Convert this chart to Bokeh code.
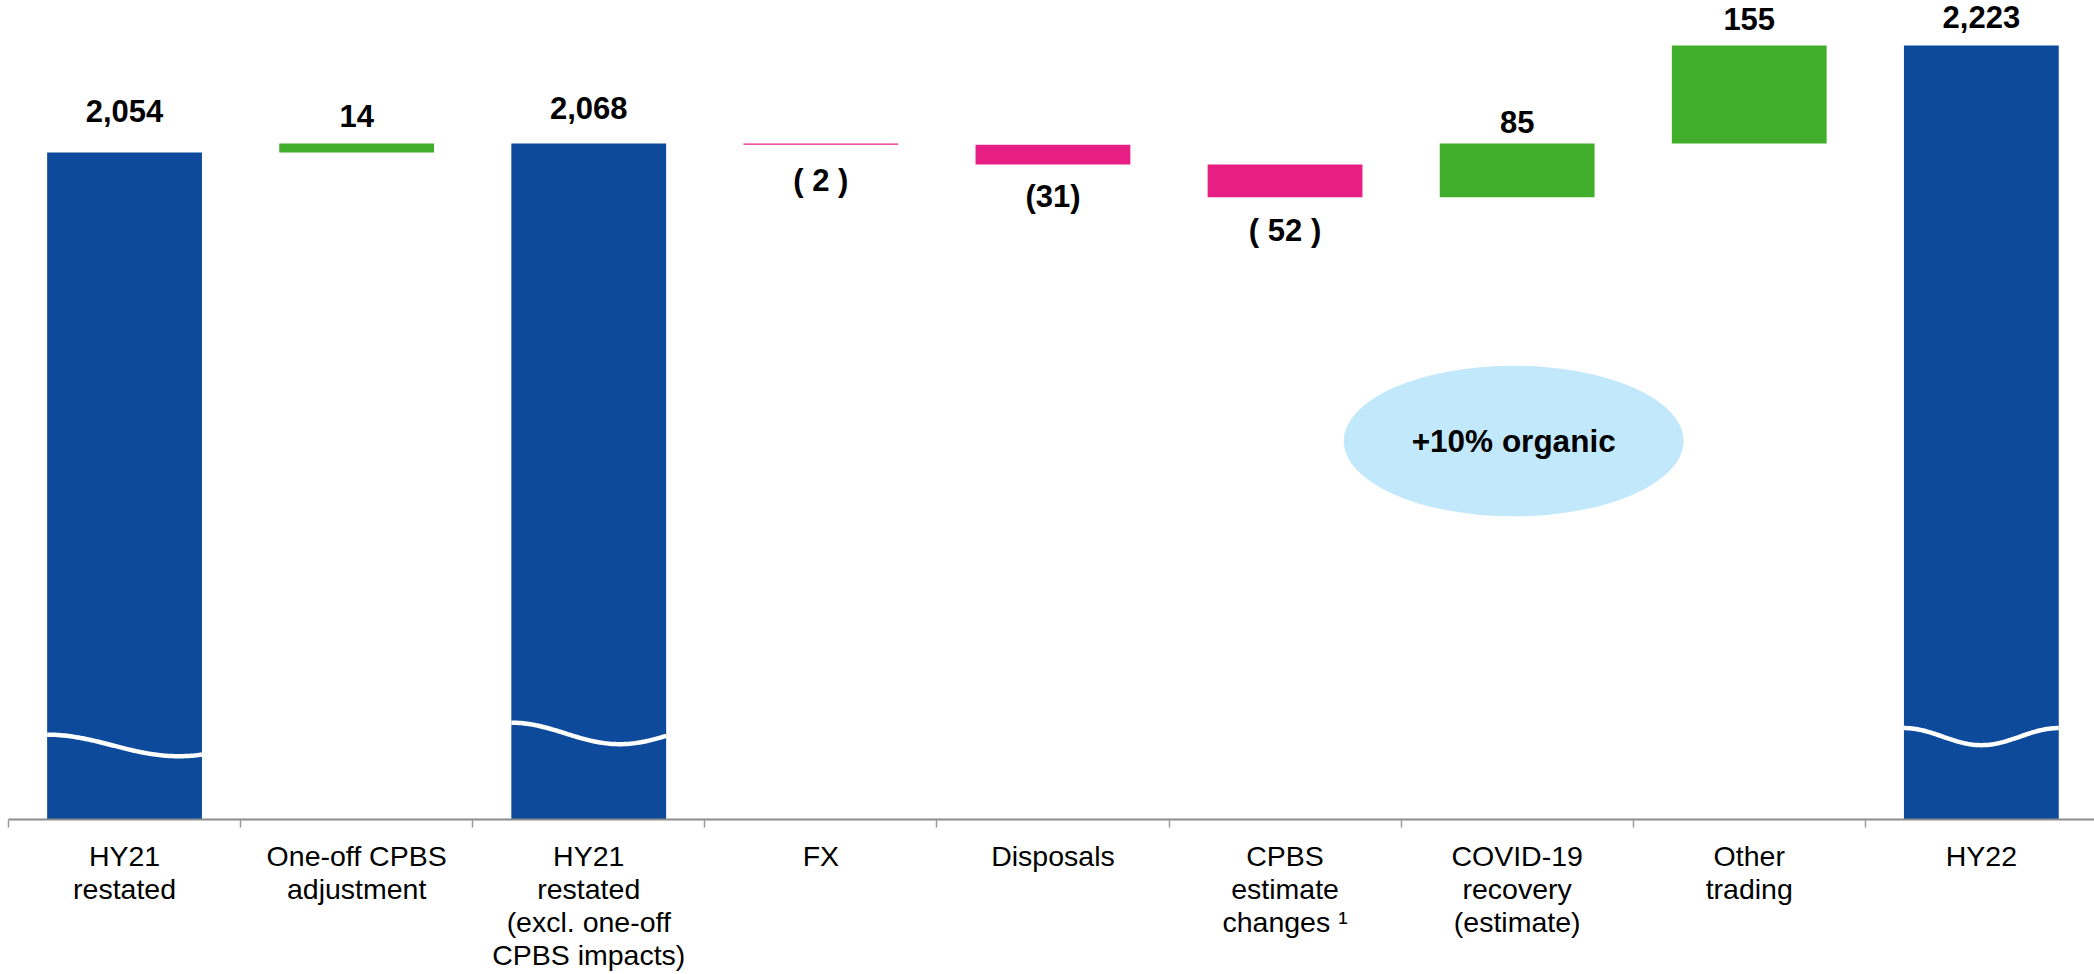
import math
from bokeh.plotting import figure
from bokeh.models import Range1d, FixedTicker, LinearAxis, ColumnDataSource, LabelSet, Label
from bokeh.embed import file_html
from bokeh.resources import INLINE
from bokeh.core.properties import value

# ---------------- DATA ----------------
categories = [
    "HY21\nrestated",
    "One-off CPBS\nadjustment",
    "HY21\nrestated\n(excl. one-off\nCPBS impacts)",
    "FX",
    "Disposals",
    "CPBS\nestimate\nchanges \u00b9",
    "COVID-19\nrecovery\n(estimate)",
    "Other\ntrading",
    "HY22",
]
values = [2054, 14, 2068, -2, -31, -52, 85, 155, 2223]
is_total = [True, False, True, False, False, False, False, False, True]
value_labels = ["2,054", "14", "2,068", "( 2 )", "(31)", "( 52 )", "85", "155", "2,223"]
annotation_text = "+10% organic"
annotation_category = "COVID-19\nrecovery\n(estimate)"

# ---------------- STYLE ----------------
W, H = 2094, 974
LEFT_PAD = 8             # blank strip left of the axis
FRAME_H = 821            # plotting frame height (px)
CAT_PX = 232.1           # pixel width of one category slot
AXIS_FLOOR = 1000        # broken axis: value shown at the baseline
Y_TOP = 2294
BAR_W = 0.667
BLUE, GREEN, PINK = "#0D4A9B", "#41AE2B", "#E71F84"
ELLIPSE_COLOR = "#C2E8FC"
FONT = "Liberation Sans"
label_gap_px = [41, 28, 36, 36, 32, 33.5, 21.5, 26, 28]
# break (wave) decoration for the truncated total bars
break_level = [1117, 1136, 1131]
break_amp = [17, 17, 13.5]
break_trough = [0.85, 0.7, 0.5]
ELLIPSE_Y, ELLIPSE_W_PX, ELLIPSE_H_PX = 1598, 340, 151

# ---------------- WATERFALL ----------------
xs = [i + 0.5 for i in range(len(categories))]
bottoms, tops, colors = [], [], []
running = 0
for v, tot in zip(values, is_total):
    if tot:
        bottoms.append(AXIS_FLOOR)
        tops.append(v)
        colors.append(BLUE)
        running = v
    else:
        start, end = running, running + v
        bottoms.append(min(start, end))
        tops.append(max(start, end))
        colors.append(GREEN if v > 0 else PINK)
        running = end

label_y = [t if (tot or v > 0) else b for t, b, v, tot in zip(tops, bottoms, values, is_total)]
label_off = [g if (tot or v > 0) else -g for g, v, tot in zip(label_gap_px, values, is_total)]

p = figure(
    width=W, height=H,
    x_range=Range1d(0, (W - LEFT_PAD) / CAT_PX), y_range=Range1d(AXIS_FLOOR, Y_TOP),
    x_axis_location=None, y_axis_location=None,
    min_border_left=LEFT_PAD, min_border_right=0, min_border_top=0,
    min_border_bottom=H - FRAME_H,
    outline_line_color=None, toolbar_location=None, output_backend="svg",
    background_fill_color="white", border_fill_color="white",
)
p.xgrid.visible = False
p.ygrid.visible = False

bar_src = ColumnDataSource(dict(x=xs, bottom=bottoms, top=tops, color=colors))
p.vbar(x="x", width=BAR_W, bottom="bottom", top="top", fill_color="color",
       line_color=None, source=bar_src)

# wave break lines on total bars
wx, wy = [], []
k = 0
for x, tot in zip(xs, is_total):
    if not tot:
        continue
    n = 80
    xx, yy = [], []
    for j in range(n + 1):
        t = j / n
        xx.append(x - BAR_W / 2 + BAR_W * t)
        yy.append(break_level[k] + break_amp[k] * math.cos(math.pi * t / break_trough[k]))
    wx.append(xx)
    wy.append(yy)
    k += 1
p.multi_line(xs=wx, ys=wy, line_color="white", line_width=4.5)

# ellipse annotation
ex = xs[categories.index(annotation_category)] - 0.015
p.ellipse(x=ex, y=ELLIPSE_Y, width=ELLIPSE_W_PX / CAT_PX,
          height=ELLIPSE_H_PX * (Y_TOP - AXIS_FLOOR) / FRAME_H,
          fill_color=ELLIPSE_COLOR, line_color=None)
p.add_layout(Label(x=ex, y=ELLIPSE_Y, text=annotation_text, text_align="center",
                   text_baseline="middle", text_font=FONT, text_font_style="bold",
                   text_font_size="31.5px", text_color="black"))

# value labels
lab_src = ColumnDataSource(dict(x=xs, y=label_y, off=label_off, text=value_labels))
p.add_layout(LabelSet(x="x", y="y", y_offset="off", text="text", source=lab_src,
                      text_align="center", text_baseline="middle",
                      text_font=value(FONT), text_font_style="bold",
                      text_font_size="31px", text_color="black"))

# category axis: labels at centres, tick marks at slot boundaries
ax = LinearAxis(
    ticker=FixedTicker(ticks=xs, minor_ticks=list(range(len(categories) + 1))),
    major_label_overrides={x: c for x, c in zip(xs, categories)},
)
ax.axis_line_color = "#8c8c8c"
ax.axis_line_width = 2
ax.major_tick_line_color = None
ax.major_tick_in = 0
ax.major_tick_out = 0
ax.minor_tick_line_color = "#9a9a9a"
ax.minor_tick_line_width = 1.5
ax.minor_tick_in = 0
ax.minor_tick_out = 8
ax.major_label_standoff = 12
ax.major_label_text_font = FONT
ax.major_label_text_font_size = "28.5px"
ax.major_label_text_color = "black"
ax.major_label_text_line_height = 1.04
p.add_layout(ax, "below")

open("out.html", "w").write(file_html(p, INLINE))
